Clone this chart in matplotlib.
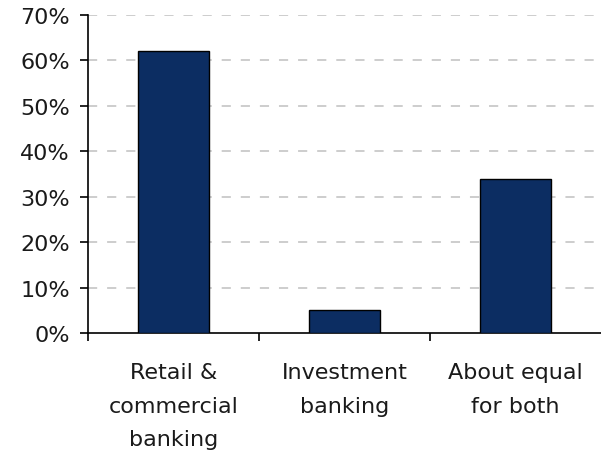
import matplotlib
matplotlib.use("Agg")
import matplotlib.pyplot as plt
from matplotlib.ticker import FixedLocator, PercentFormatter

categories = ["Retail &\ncommercial\nbanking", "Investment\nbanking", "About equal\nfor both"]
shares = [62, 5, 34]
y_ticks = [0, 10, 20, 30, 40, 50, 60, 70]

BAR_COLOR = "#0c2d62"
GRID_COLOR = "#c0c0c0"
TEXT_COLOR = "#1a1a1a"
FONT_SIZE = 16

fig = plt.figure(figsize=(6.01, 4.56), dpi=100, facecolor="white")
ax = fig.add_axes([88 / 601, 1 - 334 / 456, 1 - 88 / 601, (334 - 16) / 456])

x = list(range(len(categories)))
ax.bar(x, shares, width=0.415, color=BAR_COLOR, edgecolor="black",
       linewidth=1.0, zorder=3)

ax.set_xlim(-0.5, len(categories) - 0.5)
ax.set_ylim(0, 70)

# dashed horizontal grid behind the bars
for v in y_ticks[1:]:
    ax.axhline(v, color=GRID_COLOR, linewidth=1.1, linestyle=(0, (6, 6.5)),
               zorder=1)

ax.set_yticks(y_ticks)
ax.yaxis.set_major_formatter(PercentFormatter(decimals=0))
ax.tick_params(axis="y", direction="out", length=6, width=1.2, pad=7,
               labelsize=FONT_SIZE, colors=TEXT_COLOR)
ax.tick_params(axis="y", color="black")

# labels centred under bars, ticks on category boundaries
ax.set_xticks(x)
ax.set_xticklabels(categories, fontsize=FONT_SIZE, linespacing=1.85,
                   color=TEXT_COLOR)
ax.tick_params(axis="x", which="major", length=0, pad=21)
ax.xaxis.set_minor_locator(FixedLocator([i - 0.5 for i in range(len(categories))]))
ax.tick_params(axis="x", which="minor", direction="out", length=6, width=1.2)

for side in ("top", "right"):
    ax.spines[side].set_visible(False)
for side in ("left", "bottom"):
    ax.spines[side].set_linewidth(1.2)
    ax.spines[side].set_color("black")

fig.savefig("out.png", dpi=100, facecolor="white")
